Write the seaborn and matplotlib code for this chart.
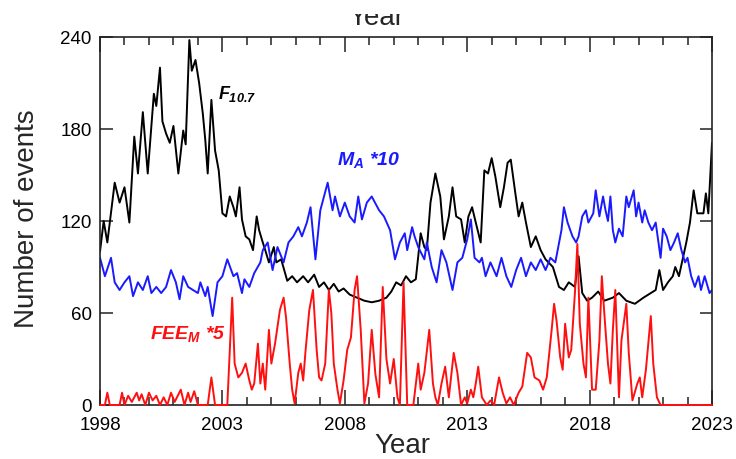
import matplotlib
matplotlib.use("Agg")
import matplotlib.pyplot as plt
from matplotlib.patches import Rectangle
from matplotlib.ticker import MultipleLocator
import pandas as pd
import seaborn as sns

# Monthly-ish solar flux F10.7 (sfu)
f107_year = [1998.00, 1998.15, 1998.30, 1998.60, 1998.80, 1999.00, 1999.20, 1999.40, 1999.55, 1999.75,
             1999.95, 2000.20, 2000.30, 2000.45, 2000.55, 2000.70, 2000.85, 2001.00, 2001.20, 2001.40,
             2001.50, 2001.65, 2001.75, 2001.90, 2002.05, 2002.20, 2002.30, 2002.40, 2002.55, 2002.70,
             2002.85, 2003.00, 2003.15, 2003.30, 2003.45, 2003.55, 2003.70, 2003.80, 2003.95, 2004.10,
             2004.25, 2004.40, 2004.50, 2004.65, 2004.75, 2004.90, 2005.10, 2005.20, 2005.40, 2005.65,
             2005.85, 2006.05, 2006.30, 2006.50, 2006.75, 2006.95, 2007.15, 2007.35, 2007.55, 2007.75,
             2007.95, 2008.20, 2008.50, 2008.80, 2009.10, 2009.40, 2009.70, 2009.90, 2010.10, 2010.30,
             2010.50, 2010.70, 2010.90, 2011.00, 2011.10, 2011.25, 2011.35, 2011.50, 2011.70, 2011.90,
             2012.05, 2012.25, 2012.40, 2012.55, 2012.75, 2012.90, 2013.05, 2013.20, 2013.35, 2013.55,
             2013.70, 2013.85, 2014.00, 2014.15, 2014.35, 2014.50, 2014.65, 2014.78, 2014.95, 2015.10,
             2015.25, 2015.40, 2015.60, 2015.80, 2016.00, 2016.20, 2016.50, 2016.75, 2016.95, 2017.15,
             2017.40, 2017.55, 2017.70, 2017.90, 2018.10, 2018.35, 2018.60, 2018.95, 2019.20, 2019.50,
             2019.85, 2020.20, 2020.50, 2020.70, 2020.85, 2021.00, 2021.20, 2021.40, 2021.50, 2021.65,
             2021.80, 2021.95, 2022.10, 2022.25, 2022.40, 2022.65, 2022.75, 2022.85, 2022.93, 2023.00]
f107_value = [100, 120, 106, 145, 132, 142, 119, 175, 151, 191,
              151, 203, 195, 220, 185, 177, 171, 182, 151, 179,
              170, 238, 218, 225, 210, 190, 173, 151, 199, 166,
              153, 125, 123, 136, 129, 123, 142, 121, 110, 108,
              101, 123, 114, 106, 101, 93, 103, 93, 95, 81,
              84, 80, 84, 80, 85, 77, 80, 75, 79, 74,
              76, 72, 70, 68, 67, 68, 70, 74, 80, 78,
              84, 80, 82, 97, 112, 103, 101, 132, 151, 136,
              108, 123, 142, 123, 121, 106, 123, 129, 119, 106,
              153, 151, 161, 149, 129, 142, 158, 160, 140, 123,
              132, 119, 103, 110, 101, 95, 90, 77, 75, 80,
              77, 97, 73, 68, 70, 74, 68, 70, 73, 68,
              66, 70, 73, 75, 88, 75, 80, 84, 90, 84,
              95, 106, 119, 140, 125, 125, 138, 125, 149, 171]

# M_A scaled by 10
ma_year = [1998.00, 1998.20, 1998.45, 1998.60, 1998.80, 1999.00, 1999.20, 1999.35, 1999.55, 1999.75,
           1999.95, 2000.10, 2000.30, 2000.50, 2000.70, 2000.90, 2001.10, 2001.25, 2001.40, 2001.60,
           2001.80, 2002.00, 2002.10, 2002.30, 2002.40, 2002.60, 2002.80, 2003.00, 2003.20, 2003.45,
           2003.60, 2003.80, 2003.90, 2004.10, 2004.30, 2004.55, 2004.65, 2004.85, 2005.05, 2005.25,
           2005.50, 2005.70, 2005.90, 2006.10, 2006.25, 2006.45, 2006.60, 2006.80, 2007.00, 2007.30,
           2007.50, 2007.60, 2007.80, 2008.00, 2008.20, 2008.40, 2008.55, 2008.70, 2008.90, 2009.10,
           2009.40, 2009.60, 2009.85, 2010.05, 2010.25, 2010.45, 2010.55, 2010.75, 2010.85, 2011.00,
           2011.25, 2011.35, 2011.55, 2011.75, 2011.95, 2012.15, 2012.40, 2012.60, 2012.80, 2013.00,
           2013.15, 2013.30, 2013.50, 2013.60, 2013.75, 2013.95, 2014.20, 2014.40, 2014.60, 2014.80,
           2015.00, 2015.20, 2015.40, 2015.60, 2015.80, 2016.00, 2016.20, 2016.40, 2016.60, 2016.85,
           2016.95, 2017.10, 2017.30, 2017.45, 2017.55, 2017.70, 2017.85, 2017.95, 2018.15, 2018.25,
           2018.40, 2018.55, 2018.65, 2018.75, 2018.85, 2018.95, 2019.05, 2019.20, 2019.35, 2019.50,
           2019.60, 2019.80, 2019.90, 2020.00, 2020.15, 2020.25, 2020.40, 2020.55, 2020.70, 2020.90,
           2021.00, 2021.15, 2021.30, 2021.45, 2021.60, 2021.75, 2021.90, 2022.00, 2022.15, 2022.30,
           2022.45, 2022.55, 2022.70, 2022.90, 2023.00]
ma_value = [96, 84, 96, 80, 75, 80, 84, 71, 80, 75,
            84, 73, 77, 73, 77, 88, 80, 69, 84, 77,
            75, 73, 80, 71, 77, 58, 80, 84, 95, 84,
            86, 73, 82, 77, 86, 93, 101, 106, 88, 103,
            93, 106, 110, 116, 110, 119, 129, 95, 127, 145,
            127, 136, 123, 132, 123, 119, 136, 121, 132, 136,
            127, 123, 114, 95, 106, 112, 101, 116, 110, 103,
            95, 106, 90, 80, 101, 93, 75, 93, 96, 108,
            121, 96, 93, 96, 84, 93, 84, 96, 84, 77,
            88, 96, 84, 93, 88, 95, 88, 96, 93, 114,
            129, 119, 110, 106, 110, 123, 127, 119, 125, 140,
            123, 136, 127, 120, 136, 114, 106, 115, 110, 136,
            129, 140, 123, 132, 119, 127, 119, 114, 119, 96,
            115, 110, 101, 106, 112, 101, 93, 96, 84, 77,
            84, 75, 84, 73, 75]

# FEE_M scaled by 5
fee_year = [1998.00, 1998.20, 1998.30, 1998.40, 1998.80, 1998.90, 1999.00, 1999.15, 1999.30, 1999.50,
            1999.60, 1999.70, 1999.85, 2000.00, 2000.15, 2000.30, 2000.45, 2000.60, 2000.75, 2000.90,
            2001.05, 2001.30, 2001.45, 2001.60, 2001.70, 2001.85, 2002.00, 2002.40, 2002.55, 2002.70,
            2003.20, 2003.40, 2003.50, 2003.65, 2003.80, 2003.95, 2004.10, 2004.20, 2004.30, 2004.45,
            2004.55, 2004.65, 2004.75, 2004.90, 2005.00, 2005.15, 2005.35, 2005.50, 2005.60, 2005.75,
            2005.85, 2005.95, 2006.10, 2006.20, 2006.30, 2006.40, 2006.55, 2006.70, 2006.85, 2006.95,
            2007.05, 2007.20, 2007.35, 2007.45, 2007.55, 2007.70, 2007.80, 2007.95, 2008.10, 2008.25,
            2008.40, 2008.50, 2008.65, 2008.80, 2008.95, 2009.10, 2009.25, 2009.40, 2009.55, 2009.70,
            2009.85, 2010.00, 2010.15, 2010.25, 2010.40, 2010.55, 2010.80, 2011.00, 2011.10, 2011.25,
            2011.45, 2011.60, 2011.70, 2011.80, 2011.95, 2012.10, 2012.25, 2012.45, 2012.60, 2012.75,
            2012.90, 2013.00, 2013.15, 2013.25, 2013.35, 2013.45, 2013.60, 2013.80, 2013.95, 2014.10,
            2014.30, 2014.45, 2014.60, 2014.75, 2014.90, 2015.10, 2015.25, 2015.45, 2015.60, 2015.75,
            2015.95, 2016.10, 2016.25, 2016.45, 2016.55, 2016.65, 2016.80, 2016.90, 2017.00, 2017.15,
            2017.25, 2017.40, 2017.50, 2017.60, 2017.75, 2017.85, 2017.95, 2018.10, 2018.25, 2018.40,
            2018.50, 2018.60, 2018.75, 2018.85, 2018.95, 2019.05, 2019.20, 2019.30, 2019.50, 2019.60,
            2019.75, 2019.95, 2020.05, 2020.15, 2020.30, 2020.50, 2020.60, 2020.75, 2020.90, 2023.00]
fee_value = [0, 0, 8, 0, 0, 8, 0, 6, 2, 8,
             3, 7, 0, 8, 3, 6, 0, 5, 0, 8,
             2, 10, 0, 8, 2, 9, 0, 0, 18, 0,
             0, 70, 27, 18, 21, 27, 16, 10, 14, 40,
             14, 27, 10, 49, 27, 40, 62, 70, 57, 27,
             10, 1, 21, 27, 16, 36, 62, 75, 36, 18,
             16, 27, 75, 60, 27, 10, 1, 16, 36, 44,
             75, 84, 49, 1, 14, 49, 20, 5, 77, 30,
             14, 30, 5, 0, 80, 0, 0, 27, 10, 21,
             49, 14, 5, 0, 14, 25, 5, 34, 21, 0,
             5, 1, 10, 5, 14, 25, 5, 0, 3, 0,
             18, 8, 1, 5, 0, 8, 12, 34, 31, 18,
             16, 10, 18, 49, 66, 55, 31, 23, 53, 31,
             36, 73, 105, 53, 27, 18, 70, 10, 10, 42,
             84, 60, 27, 14, 49, 75, 5, 42, 66, 34,
             3, 14, 18, 5, 23, 58, 27, 5, 0, 0]

f107 = pd.DataFrame({"year": f107_year, "value": f107_value})
ma = pd.DataFrame({"year": ma_year, "value": ma_value})
fee = pd.DataFrame({"year": fee_year, "value": fee_value})

sns.set_style("ticks")
plt.rcParams["font.family"] = ["Liberation Sans", "DejaVu Sans"]
plt.rcParams["mathtext.fontset"] = "custom"
plt.rcParams["mathtext.it"] = "Liberation Sans:italic:bold"
plt.rcParams["mathtext.rm"] = "Liberation Sans:italic:bold"
plt.rcParams["mathtext.bf"] = "Liberation Sans:italic:bold"

W, H = 736, 459
fig = plt.figure(figsize=(W / 100, H / 100), dpi=100)
ax = fig.add_axes([100 / W, 1 - 405 / H, 612 / W, 368 / H])

sns.lineplot(data=f107, x="year", y="value", ax=ax, color="black",
             linewidth=1.4, estimator=None, sort=False, zorder=2)
sns.lineplot(data=ma, x="year", y="value", ax=ax, color="#1a1aff",
             linewidth=1.4, estimator=None, sort=False, zorder=2)
sns.lineplot(data=fee, x="year", y="value", ax=ax, color="#ff1010",
             linewidth=1.4, estimator=None, sort=False, zorder=3, clip_on=False)

ax.set_xlim(1998, 2023)
ax.set_ylim(0, 240)
ax.set_xticks(range(1998, 2024, 5))
ax.xaxis.set_minor_locator(MultipleLocator(1))
ax.set_yticks([0, 60, 120, 180, 240])
ax.tick_params(axis="both", which="both", direction="in", top=True, right=True,
               labelsize=13.5, colors="#222222", labelcolor="black", width=1.1)
ax.tick_params(axis="x", which="major", length=11, pad=9)
ax.tick_params(axis="x", which="minor", length=5.5)
ax.tick_params(axis="y", which="major", length=9, pad=6)
for s in ax.spines.values():
    s.set_color("#222222")
    s.set_linewidth(1.2)
ax.set_xlabel("")
ax.set_ylabel("")

# Series labels
ax.text(2002.82, 203, r"$F_{10.7}$", color="black", fontsize=13,
        fontweight="bold", style="italic", ha="left", va="center")
ax.text(2008.95, 160, r"$M_A$ *10", color="#1a1aff", fontsize=14,
        fontweight="bold", style="italic", ha="center", va="center")
ax.text(2001.6, 46, r"$FEE_M$ *5", color="#ff1010", fontsize=14,
        fontweight="bold", style="italic", ha="center", va="center")

# Axis titles
fig.text(402 / W, 1 - 446 / H, "Year", fontsize=20, ha="center", va="center")
fig.text(27 / W, 1 - 219 / H, "Number of events", fontsize=20, rotation=90,
         ha="center", va="center")

# Upper axis title, cut off at the top edge
fig.text(376 / W, 1 - 25 / H, "Year", fontsize=20, ha="center", va="baseline")
fig.add_artist(Rectangle((0, 1 - 14 / H), 1, 14 / H, transform=fig.transFigure,
                         facecolor="white", edgecolor="none", zorder=10))

fig.savefig("out.png", dpi=100)
